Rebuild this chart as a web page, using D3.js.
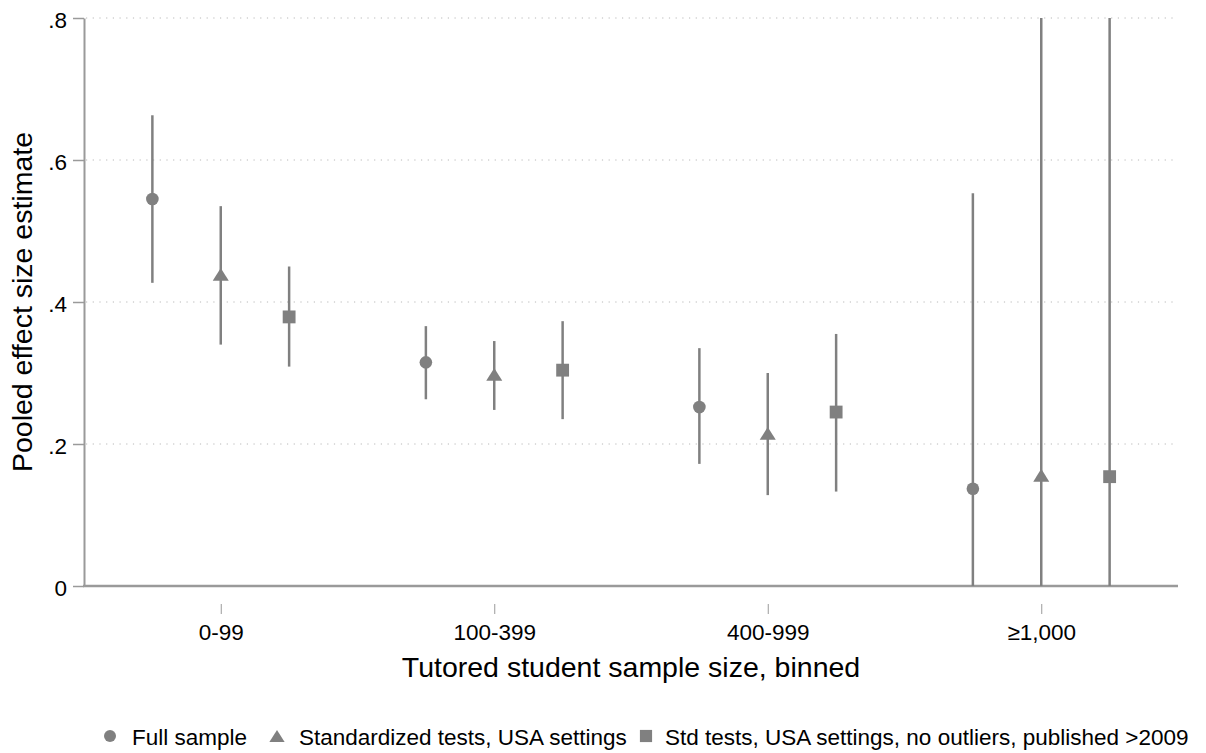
<!DOCTYPE html>
<meta charset="utf-8">
<style>

html, body {
  margin: 0;
  background: #fff;
}

svg {
  display: block;
  font-family: "Liberation Sans", Arial, Helvetica, sans-serif;
}

.grid line {
  stroke: #b8b8b8;
  stroke-width: 1px;
  stroke-dasharray: 1.2 5.5;
}

.axis path, .axis line {
  stroke: #9a9a9a;
}

.axis text {
  fill: #000;
  font-size: 22.5px;
}

.ci {
  stroke: #808080;
  stroke-width: 2.5px;
}

.marker {
  fill: #808080;
}

.legend text {
  font-size: 22.5px;
  fill: #000;
}

</style>
<svg class="chart"></svg>
<script src="https://cdn.jsdelivr.net/npm/d3@7"></script>
<script>

var width = 1206;
var height = 753;

// bins along the x axis
var bins = ['0-99', '100-399', '400-999', '\u22651,000'];

// series names (legend order)
var seriesNames = [
  'Full sample',
  'Standardized tests, USA settings',
  'Std tests, USA settings, no outliers, published >2009'
];

// point estimates per bin, one array per series
var fullEst = [0.545, 0.315, 0.252, 0.137];
var stdEst = [0.439, 0.298, 0.215, 0.156];
var pubEst = [0.379, 0.304, 0.245, 0.154];

// confidence interval bounds (last bin runs past the plot region)
var fullLo = [0.427, 0.263, 0.172, -0.28];
var fullHi = [0.663, 0.366, 0.335, 0.553];
var stdLo = [0.340, 0.248, 0.128, -0.55];
var stdHi = [0.535, 0.345, 0.300, 0.90];
var pubLo = [0.309, 0.235, 0.133, -0.55];
var pubHi = [0.450, 0.373, 0.355, 0.90];

var yTicks = [0, 0.2, 0.4, 0.6, 0.8];

var margin = {left: 84, right: 28, top: 18, bottom: 167};
var plotW = width - margin.left - margin.right;
var plotH = height - margin.top - margin.bottom;

var svg = d3.select('svg.chart')
  .attr('width', width)
  .attr('height', height);

var x = d3.scaleLinear()
  .domain([0.5, bins.length + 0.5])
  .range([margin.left, margin.left + plotW]);

var y = d3.scaleLinear()
  .domain([0, 0.8])
  .range([margin.top + plotH, margin.top]);

// triangle a bit wider than tall, like Stata's
var wideTriangle = {
  draw: function (ctx, size) {
    var w = Math.sqrt(size) * 1.25;
    var h = w * 0.8;
    ctx.moveTo(0, -h / 2);
    ctx.lineTo(w / 2, h / 2);
    ctx.lineTo(-w / 2, h / 2);
    ctx.closePath();
  }
};

var series = [
  {name: seriesNames[0], est: fullEst, lo: fullLo, hi: fullHi, offset: -0.25, type: d3.symbolCircle, size: 125},
  {name: seriesNames[1], est: stdEst, lo: stdLo, hi: stdHi, offset: 0, type: wideTriangle, size: 165},
  {name: seriesNames[2], est: pubEst, lo: pubLo, hi: pubHi, offset: 0.25, type: d3.symbolSquare, size: 165}
];

svg.append('defs').append('clipPath')
    .attr('id', 'plot-clip')
  .append('rect')
    .attr('x', margin.left)
    .attr('y', margin.top)
    .attr('width', plotW)
    .attr('height', plotH);

// dotted gridlines
svg.append('g')
    .attr('class', 'grid')
  .selectAll('line')
  .data(yTicks.filter(function (d) { return d > 0; }))
  .enter().append('line')
    .attr('x1', margin.left + 2)
    .attr('x2', margin.left + plotW)
    .attr('y1', function (d) { return y(d); })
    .attr('y2', function (d) { return y(d); });

// y axis
var yAxis = svg.append('g')
    .attr('class', 'axis')
    .attr('transform', 'translate(' + margin.left + ',0)')
    .call(d3.axisLeft(y)
      .tickValues(yTicks)
      .tickSize(11)
      .tickSizeOuter(0)
      .tickPadding(6)
      .tickFormat(function (d) { return d === 0 ? '0' : d3.format('.1f')(d).replace(/^0/, ''); }));
yAxis.select('.domain').attr('stroke-width', 2);
yAxis.selectAll('.tick line').attr('stroke-width', 1.5);
yAxis.selectAll('.tick text').attr('dy', '0.4em');

// x axis baseline
svg.append('line')
    .attr('x1', margin.left - 1)
    .attr('x2', margin.left + plotW)
    .attr('y1', y(0))
    .attr('y2', y(0))
    .attr('stroke', '#9a9a9a')
    .attr('stroke-width', 2.5);

// x axis ticks sit apart from the baseline
var xAxis = svg.append('g')
    .attr('class', 'axis')
    .attr('transform', 'translate(0,' + (y(0) + 18) + ')')
    .call(d3.axisBottom(x)
      .tickValues(d3.range(1, bins.length + 1))
      .tickSize(10)
      .tickPadding(10)
      .tickFormat(function (d) { return bins[d - 1]; }));
xAxis.select('.domain').remove();
xAxis.selectAll('.tick line').attr('stroke', '#b0b0b0').attr('stroke-width', 1);

// error bars and markers
var plot = svg.append('g').attr('clip-path', 'url(#plot-clip)');

series.forEach(function (s) {
  var pts = bins.map(function (b, i) {
    return {pos: i + 1 + s.offset, est: s.est[i], lo: s.lo[i], hi: s.hi[i]};
  });

  plot.append('g').selectAll('line')
    .data(pts)
    .enter().append('line')
      .attr('class', 'ci')
      .attr('x1', function (d) { return x(d.pos); })
      .attr('x2', function (d) { return x(d.pos); })
      .attr('y1', function (d) { return y(d.lo); })
      .attr('y2', function (d) { return y(d.hi); });

  svg.append('g').selectAll('path')
    .data(pts)
    .enter().append('path')
      .attr('class', 'marker')
      .attr('transform', function (d) { return 'translate(' + x(d.pos) + ',' + y(d.est) + ')'; })
      .attr('d', d3.symbol().type(s.type).size(s.size));
});

// axis titles
svg.append('text')
    .attr('x', margin.left + plotW / 2)
    .attr('y', 677)
    .attr('text-anchor', 'middle')
    .attr('font-size', '28.5px')
    .text('Tutored student sample size, binned');

svg.append('text')
    .attr('transform', 'translate(32,' + (margin.top + plotH / 2) + ') rotate(-90)')
    .attr('text-anchor', 'middle')
    .attr('font-size', '28.5px')
    .text('Pooled effect size estimate');

// legend
var legendX = [110, 277, 646];
var legend = svg.append('g')
    .attr('class', 'legend')
  .selectAll('g')
  .data(series)
  .enter().append('g')
    .attr('transform', function (d, i) { return 'translate(' + legendX[i] + ',736)'; });

legend.append('path')
    .attr('class', 'marker')
    .attr('d', function (d) { return d3.symbol().type(d.type).size(d.size * 0.9)(); });

legend.append('text')
    .attr('x', function (d, i) { return i === 2 ? 19 : 22; })
    .attr('y', 9)
    .text(function (d) { return d.name; });

</script>
